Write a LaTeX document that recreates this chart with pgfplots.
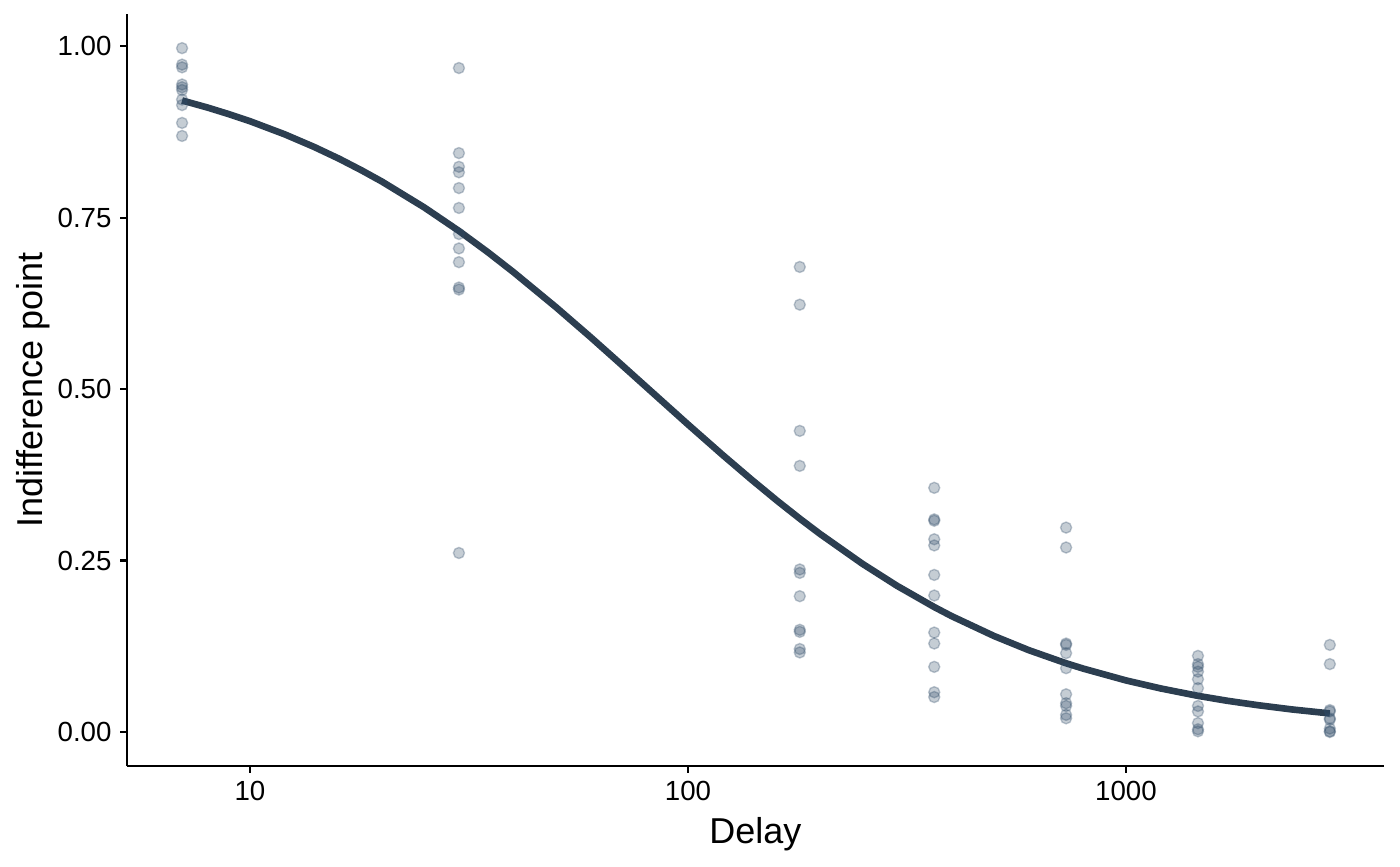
\documentclass[border=0pt]{standalone}
\usepackage{fontspec}
\setmainfont{Liberation Sans}
\usepackage{pgfplots}
\pgfplotsset{compat=1.18}
\definecolor{navy}{HTML}{2C3E50}
\definecolor{pts}{HTML}{2E4A66}
\begin{document}
\begin{tikzpicture}
\path[use as bounding box] (-45.89pt,-36.135pt) rectangle (460.0pt,276.8pt);
\begin{axis}[
  at={(0,0)}, anchor=south west,
  scale only axis, width=454.2pt, height=271.7pt,
  xmode=log, xmin=5.24, xmax=3882,
  ymin=-0.0496, ymax=1.0466,
  axis lines=left, axis line style={line width=0.75pt, -},
  tick align=outside, major tick length=2.5pt,
  tick style={line width=0.75pt, black},
  minor tick num=0, minor x tick style={draw=none},
  xtick={10,100,1000}, xticklabels={10,100,1000},
  ytick={0,0.25,0.5,0.75,1}, yticklabels={0.00,0.25,0.50,0.75,1.00},
  ticklabel style={font=\fontsize{10}{12}\selectfont, black},
  xticklabel style={inner sep=0pt, yshift=-2.8pt, anchor=north},
  yticklabel style={inner sep=0pt, xshift=-2.9pt, anchor=east},
  xlabel={Delay}, ylabel={Indifference point},
  label style={font=\fontsize{13}{15}\selectfont, inner sep=0pt},
  xlabel style={at={(axis description cs:0.5,0)}, anchor=north, yshift=-18.2pt},
  ylabel style={at={(axis description cs:0,0.5)}, anchor=base, yshift=30.7pt},
  clip=false,
]
\addplot[only marks, mark=*, mark size=2pt,
  mark options={fill=pts, draw=pts, fill opacity=0.28, draw opacity=0.3, line width=0.5pt}]
  table[row sep=\\] {
x y\\
7 0.997\\ 7 0.973\\ 7 0.969\\ 7 0.944\\ 7 0.940\\ 7 0.936\\ 7 0.922\\ 7 0.914\\ 7 0.888\\ 7 0.869\\
30 0.968\\ 30 0.844\\ 30 0.824\\ 30 0.816\\ 30 0.793\\ 30 0.764\\ 30 0.726\\ 30 0.705\\ 30 0.685\\ 30 0.648\\ 30 0.645\\ 30 0.261\\
180 0.678\\ 180 0.623\\ 180 0.439\\ 180 0.388\\ 180 0.237\\ 180 0.232\\ 180 0.198\\ 180 0.149\\ 180 0.146\\ 180 0.121\\ 180 0.116\\
365 0.356\\ 365 0.310\\ 365 0.308\\ 365 0.281\\ 365 0.272\\ 365 0.229\\ 365 0.199\\ 365 0.145\\ 365 0.129\\ 365 0.095\\ 365 0.058\\ 365 0.051\\
730 0.298\\ 730 0.269\\ 730 0.129\\ 730 0.127\\ 730 0.115\\ 730 0.093\\ 730 0.055\\ 730 0.042\\ 730 0.038\\ 730 0.025\\ 730 0.020\\
1460 0.111\\ 1460 0.099\\ 1460 0.095\\ 1460 0.088\\ 1460 0.077\\ 1460 0.064\\ 1460 0.038\\ 1460 0.030\\ 1460 0.013\\ 1460 0.004\\ 1460 0.001\\
2920 0.127\\ 2920 0.099\\ 2920 0.032\\ 2920 0.030\\ 2920 0.020\\ 2920 0.018\\ 2920 0.005\\ 2920 0.001\\ 2920 0.000\\
};
\addplot[navy, line width=2.4pt, no marks, line cap=butt] table[row sep=\\] {
x y\\
7 0.9207\\ 8 0.9104\\ 9 0.9003\\ 10 0.8905\\ 12 0.8714\\ 14 0.8531\\ 16 0.8356\\ 18 0.8187\\ 20 0.8026\\ 25 0.7648\\
30 0.7305\\ 35 0.6991\\ 40 0.6702\\ 50 0.6192\\ 60 0.5754\\ 70 0.5373\\ 80 0.5040\\ 100 0.4484\\ 120 0.4039\\ 140 0.3674\\
160 0.3369\\ 180 0.3111\\ 200 0.2890\\ 250 0.2454\\ 300 0.2132\\ 365 0.1822\\ 400 0.1689\\ 500 0.1399\\ 600 0.1193\\ 730 0.1002\\
800 0.0923\\ 1000 0.0752\\ 1200 0.0635\\ 1460 0.0527\\ 1700 0.0456\\ 2000 0.0391\\ 2400 0.0328\\ 2920 0.0271\\
};
\end{axis}
\end{tikzpicture}
\end{document}
